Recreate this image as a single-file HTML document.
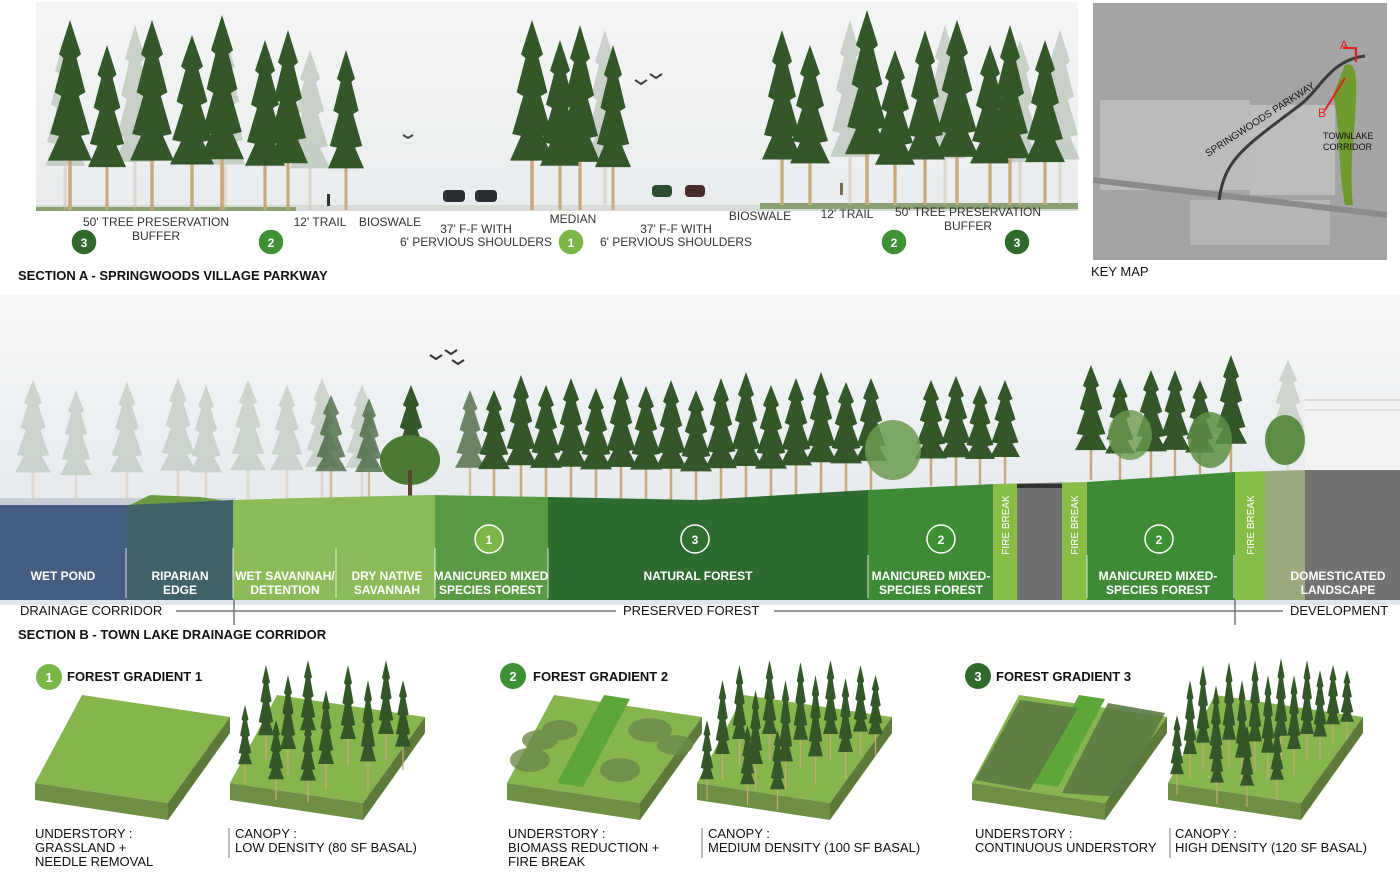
<!DOCTYPE html>
<html><head><meta charset="utf-8"><style>
body{margin:0;background:#fff;width:1400px;height:885px;overflow:hidden;font-family:"Liberation Sans",sans-serif}
svg{position:absolute;left:0;top:0}
</style></head><body>
<svg width="1400" height="885" viewBox="0 0 1400 885" font-family="Liberation Sans, sans-serif">
<defs>
<symbol id="p" viewBox="0 0 20 100" preserveAspectRatio="none">
<rect x="9.2" y="55" width="1.6" height="45" fill="#c9a87c"/>
<polygon points="10,0 15,18 13,20 17,38 14,40 19,60 15,61 20,74 0,74 5,61 1,60 6,40 3,38 7,20 5,18" fill="#34572a"/>
</symbol>
<symbol id="pl" viewBox="0 0 20 100" preserveAspectRatio="none">
<rect x="9.2" y="55" width="1.6" height="45" fill="#c9b89a"/>
<polygon points="10,0 15,18 13,20 17,38 14,40 19,60 15,61 20,74 0,74 5,61 1,60 6,40 3,38 7,20 5,18" fill="#8fa089"/>
</symbol>
<linearGradient id="sky" x1="0" y1="0" x2="0" y2="1"><stop offset="0" stop-color="#f6f7f8"/><stop offset="1" stop-color="#dfe5e9"/></linearGradient>
<linearGradient id="skyA" x1="0" y1="0" x2="0" y2="1"><stop offset="0" stop-color="#f4f5f6"/><stop offset="1" stop-color="#e9ecee"/></linearGradient>
<clipPath id="gnd"><path d="M0,505 L127,505 L233,500 L300,498 L430,495 L548,497 L700,500 L868,490 L995,484 L1087,482 L1235,472 L1305,470 L1400,470 L1400,600 L0,600Z"/></clipPath>
<g id="blk">
<polygon points="35,783 82,695 230,717 168,803" fill="#86b54e"/>
<polygon points="35,783 168,803 168,820 35,800" fill="#6f8f45"/>
<polygon points="168,803 230,717 230,733 168,820" fill="#5d7a3a"/>
</g>
</defs>

<!-- SECTION A -->
<rect x="36" y="2" width="1042" height="208" fill="url(#skyA)"/>
<rect x="36" y="205" width="1042" height="6" fill="#d8dcd9"/>
<rect x="36" y="207" width="260" height="4" fill="#8aa070"/>
<rect x="760" y="203" width="318" height="6" fill="#8aa070"/>
<g opacity="0.4">
<use href="#pl" x="45" y="40" width="40" height="170"/><use href="#pl" x="115" y="25" width="40" height="185"/><use href="#pl" x="205" y="35" width="40" height="175"/><use href="#pl" x="290" y="50" width="40" height="160"/><use href="#pl" x="585" y="30" width="40" height="175"/><use href="#pl" x="830" y="20" width="40" height="185"/><use href="#pl" x="925" y="25" width="40" height="180"/><use href="#pl" x="1040" y="30" width="40" height="175"/><use href="#pl" x="1000" y="40" width="40" height="165"/>
</g>
<use href="#p" x="48" y="20" width="44" height="190"/><use href="#p" x="88" y="45" width="38" height="165"/><use href="#p" x="130" y="20" width="44" height="190"/><use href="#p" x="170" y="35" width="44" height="175"/><use href="#p" x="200" y="15" width="44" height="195"/><use href="#p" x="245" y="40" width="40" height="170"/><use href="#p" x="268" y="30" width="40" height="180"/><use href="#p" x="328" y="50" width="36" height="160"/>
<use href="#p" x="510" y="20" width="44" height="190"/><use href="#p" x="540" y="40" width="40" height="170"/><use href="#p" x="560" y="25" width="40" height="185"/><use href="#p" x="595" y="45" width="36" height="165"/>
<use href="#p" x="762" y="30" width="40" height="175"/><use href="#p" x="790" y="45" width="40" height="160"/><use href="#p" x="845" y="10" width="44" height="195"/><use href="#p" x="875" y="50" width="40" height="155"/><use href="#p" x="905" y="30" width="40" height="175"/><use href="#p" x="935" y="20" width="44" height="185"/><use href="#p" x="970" y="45" width="40" height="160"/><use href="#p" x="990" y="25" width="40" height="180"/><use href="#p" x="1025" y="40" width="40" height="165"/>
<rect x="443" y="190" width="22" height="12" rx="4" fill="#2b2f33"/><rect x="475" y="190" width="22" height="12" rx="4" fill="#2b2f33"/>
<rect x="652" y="185" width="20" height="12" rx="4" fill="#2d4d32"/><rect x="685" y="185" width="20" height="12" rx="4" fill="#4a2a2a"/>
<rect x="327" y="194" width="3" height="12" fill="#333"/><rect x="840" y="183" width="3" height="12" fill="#7a6a55"/>
<g font-size="12" fill="#333" text-anchor="middle">
<text x="156" y="226">50' TREE PRESERVATION</text><text x="156" y="240">BUFFER</text>
<text x="320" y="226">12' TRAIL</text><text x="390" y="226">BIOSWALE</text>
<text x="476" y="233">37' F-F WITH</text><text x="476" y="246">6' PERVIOUS SHOULDERS</text>
<text x="573" y="223">MEDIAN</text>
<text x="676" y="233">37' F-F WITH</text><text x="676" y="246">6' PERVIOUS SHOULDERS</text>
<text x="760" y="220">BIOSWALE</text><text x="847" y="218">12' TRAIL</text>
<text x="968" y="216">50' TREE PRESERVATION</text><text x="968" y="230">BUFFER</text>
</g>
<g font-size="12" font-weight="bold" fill="#fff" text-anchor="middle">
<circle cx="84" cy="242" r="13" fill="#2f6a2c" stroke="#fff" stroke-width="1.5"/><text x="84" y="247">3</text>
<circle cx="271" cy="242" r="13" fill="#3f8f35" stroke="#fff" stroke-width="1.5"/><text x="271" y="247">2</text>
<circle cx="571" cy="242" r="13" fill="#7ab648" stroke="#fff" stroke-width="1.5"/><text x="571" y="247">1</text>
<circle cx="894" cy="242" r="13" fill="#3f8f35" stroke="#fff" stroke-width="1.5"/><text x="894" y="247">2</text>
<circle cx="1017" cy="242" r="13" fill="#2f6a2c" stroke="#fff" stroke-width="1.5"/><text x="1017" y="247">3</text>
</g>
<text x="18" y="280" font-size="13" font-weight="bold" fill="#111">SECTION A - SPRINGWOODS VILLAGE PARKWAY</text>

<!-- KEY MAP -->
<rect x="1093" y="3" width="294" height="257" fill="#a4a4a4"/>
<rect x="1100" y="100" width="150" height="90" fill="#c4c4c4" opacity=".7"/>
<rect x="1250" y="105" width="85" height="90" fill="#c8c8c8" opacity=".7"/>
<rect x="1190" y="200" width="140" height="45" fill="#bdbdbd" opacity=".7"/>
<path d="M1093,180 L1387,215" stroke="#8a8a8a" stroke-width="6"/>
<path d="M1219,200 C1225,160 1240,150 1300,105 C1320,90 1330,60 1365,56" stroke="#3a3a3a" stroke-width="3" fill="none"/>
<path d="M1345,65 C1360,60 1356,90 1355,120 C1352,150 1350,180 1353,205 L1345,205 C1338,170 1340,120 1333,95Z" fill="#6f9a2e"/>
<path d="M1343,48 L1356,48 L1356,62 M1325,110 L1345,78" stroke="#e02020" stroke-width="2" fill="none"/>
<text x="1340" y="49" font-size="12" fill="#e02020">A</text><text x="1318" y="117" font-size="12" fill="#e02020">B</text>
<text x="1208" y="157" font-size="10" fill="#111" transform="rotate(-33 1208 157)">SPRINGWOODS PARKWAY</text>
<text x="1323" y="139" font-size="9" fill="#111">TOWNLAKE</text><text x="1323" y="150" font-size="9" fill="#111">CORRIDOR</text>
<text x="1091" y="276" font-size="13" fill="#111">KEY MAP</text>

<!-- SECTION B -->
<rect x="0" y="295" width="1400" height="310" fill="url(#sky)"/>
<rect x="1305" y="390" width="95" height="82" fill="#f3f3f3"/><line x1="1305" y1="400" x2="1400" y2="400" stroke="#bbb"/><line x1="1305" y1="410" x2="1400" y2="410" stroke="#ccc"/>
<g opacity="0.35">
<use href="#pl" x="15" y="380" width="36" height="125"/><use href="#pl" x="60" y="390" width="32" height="115"/><use href="#pl" x="110" y="382" width="34" height="122"/><use href="#pl" x="160" y="378" width="36" height="125"/><use href="#pl" x="190" y="385" width="32" height="118"/><use href="#pl" x="230" y="380" width="36" height="122"/><use href="#pl" x="270" y="385" width="34" height="115"/><use href="#pl" x="305" y="378" width="34" height="120"/><use href="#pl" x="345" y="385" width="34" height="112"/><use href="#pl" x="1270" y="360" width="36" height="112"/>
</g>
<g opacity="0.7"><use href="#p" x="315" y="395" width="32" height="103"/><use href="#p" x="355" y="398" width="28" height="100"/><use href="#p" x="455" y="390" width="30" height="105"/></g>
<use href="#p" x="395" y="385" width="32" height="112"/>
<ellipse cx="410" cy="460" rx="30" ry="25" fill="#4b7a34"/><rect x="408" y="470" width="4" height="30" fill="#5a4630"/>
<g>
<use href="#p" x="478" y="390" width="32" height="107"/><use href="#p" x="505" y="375" width="32" height="122"/><use href="#p" x="530" y="385" width="32" height="112"/><use href="#p" x="555" y="378" width="32" height="120"/><use href="#p" x="580" y="388" width="32" height="110"/><use href="#p" x="605" y="376" width="32" height="123"/><use href="#p" x="630" y="386" width="32" height="113"/><use href="#p" x="655" y="380" width="32" height="120"/><use href="#p" x="680" y="390" width="32" height="110"/><use href="#p" x="705" y="378" width="32" height="122"/><use href="#p" x="730" y="372" width="32" height="127"/><use href="#p" x="755" y="385" width="32" height="113"/><use href="#p" x="780" y="378" width="32" height="118"/><use href="#p" x="805" y="372" width="32" height="122"/><use href="#p" x="830" y="382" width="32" height="110"/><use href="#p" x="855" y="378" width="32" height="112"/>
<use href="#p" x="915" y="380" width="32" height="106"/><use href="#p" x="940" y="376" width="32" height="110"/><use href="#p" x="965" y="385" width="30" height="100"/><use href="#p" x="990" y="380" width="30" height="104"/>
<use href="#p" x="1075" y="365" width="32" height="115"/><use href="#p" x="1105" y="378" width="30" height="102"/><use href="#p" x="1135" y="370" width="32" height="110"/><use href="#p" x="1160" y="370" width="30" height="108"/><use href="#p" x="1185" y="380" width="30" height="98"/><use href="#p" x="1215" y="355" width="32" height="120"/>
</g>
<ellipse cx="893" cy="450" rx="28" ry="30" fill="#6c9a50" opacity=".85"/><ellipse cx="1130" cy="435" rx="22" ry="25" fill="#6c9a50" opacity=".8"/><ellipse cx="1210" cy="440" rx="22" ry="28" fill="#5d8e45" opacity=".85"/><ellipse cx="1285" cy="440" rx="20" ry="25" fill="#5d8e45"/>
<path d="M430,355 l6,4 l6,-4 M445,350 l6,4 l6,-4 M452,360 l6,4 l6,-4" stroke="#333" stroke-width="2" fill="none"/>
<path d="M635,80 l6,4 l6,-4 M650,74 l6,4 l6,-4 M403,135 l5,3 l5,-3" stroke="#444" stroke-width="2" fill="none"/>
<rect x="0" y="498" width="235" height="10" fill="#c7ced4"/>
<path d="M130,505 L150,495 L200,497 L233,502 Z" fill="#6b9a40"/>
<g clip-path="url(#gnd)">
<rect x="0" y="460" width="127" height="140" fill="#465d82"/>
<rect x="127" y="460" width="106" height="140" fill="#3f6169"/>
<rect x="233" y="460" width="202" height="140" fill="#8cbb5a"/>
<rect x="435" y="460" width="113" height="140" fill="#5b9a45"/>
<rect x="548" y="460" width="320" height="140" fill="#2d6b2f"/>
<rect x="868" y="460" width="125" height="140" fill="#3e8a36"/>
<rect x="993" y="460" width="24" height="140" fill="#88bd48"/>
<rect x="1017" y="460" width="45" height="140" fill="#6f6f6f"/>
<rect x="1062" y="460" width="25" height="140" fill="#88bd48"/>
<rect x="1087" y="460" width="148" height="140" fill="#3e8a36"/>
<rect x="1235" y="460" width="30" height="140" fill="#88bd48"/>
<rect x="1265" y="460" width="40" height="140" fill="#9aaa7e"/>
<rect x="1305" y="460" width="95" height="140" fill="#727272"/>
</g>
<rect x="1017" y="484" width="45" height="4" fill="#333"/>
<g stroke="#fff" stroke-width="1" opacity=".8">
<line x1="126" y1="548" x2="126" y2="598"/><line x1="233" y1="548" x2="233" y2="598"/><line x1="336" y1="548" x2="336" y2="598"/><line x1="435" y1="548" x2="435" y2="598"/><line x1="548" y1="548" x2="548" y2="598"/><line x1="868" y1="555" x2="868" y2="598"/><line x1="1087" y1="555" x2="1087" y2="598"/><line x1="1234" y1="555" x2="1234" y2="598"/>
</g>
<g font-size="12" font-weight="bold" fill="#fff" text-anchor="middle">
<text x="63" y="580">WET POND</text>
<text x="180" y="580">RIPARIAN</text><text x="180" y="594">EDGE</text>
<text x="285" y="580">WET SAVANNAH/</text><text x="285" y="594">DETENTION</text>
<text x="387" y="580">DRY NATIVE</text><text x="387" y="594">SAVANNAH</text>
<text x="491" y="580">MANICURED MIXED</text><text x="491" y="594">SPECIES FOREST</text>
<text x="698" y="580">NATURAL FOREST</text>
<text x="931" y="580">MANICURED MIXED-</text><text x="931" y="594">SPECIES FOREST</text>
<text x="1158" y="580">MANICURED MIXED-</text><text x="1158" y="594">SPECIES FOREST</text>
<text x="1338" y="580">DOMESTICATED</text><text x="1338" y="594">LANDSCAPE</text>
<circle cx="489" cy="539" r="14" fill="#7ab648" stroke="#fff" stroke-width="1.5"/><text x="489" y="544">1</text>
<circle cx="695" cy="539" r="14" fill="#2f6e2c" stroke="#fff" stroke-width="1.5"/><text x="695" y="544">3</text>
<circle cx="941" cy="539" r="14" fill="#3f8f35" stroke="#fff" stroke-width="1.5"/><text x="941" y="544">2</text>
<circle cx="1159" cy="539" r="14" fill="#3f8f35" stroke="#fff" stroke-width="1.5"/><text x="1159" y="544">2</text>
</g>
<g font-size="10" fill="#fff" text-anchor="middle">
<text transform="translate(1009 525) rotate(-90)">FIRE BREAK</text>
<text transform="translate(1078 525) rotate(-90)">FIRE BREAK</text>
<text transform="translate(1254 525) rotate(-90)">FIRE BREAK</text>
</g>
<g stroke="#777" stroke-width="1.5">
<line x1="176" y1="611" x2="616" y2="611"/><line x1="774" y1="611" x2="1283" y2="611"/>
<line x1="234" y1="600" x2="234" y2="625"/><line x1="1235" y1="600" x2="1235" y2="625"/>
</g>
<g font-size="13" fill="#111">
<text x="20" y="615">DRAINAGE CORRIDOR</text><text x="623" y="615">PRESERVED FOREST</text><text x="1290" y="615">DEVELOPMENT</text>
</g>
<text x="18" y="639" font-size="13" font-weight="bold" fill="#111">SECTION B - TOWN LAKE DRAINAGE CORRIDOR</text>

<!-- GRADIENTS -->
<g font-size="13" font-weight="bold" fill="#111">
<circle cx="49" cy="677" r="13" fill="#7ab648"/><text x="49" y="682" fill="#fff" text-anchor="middle">1</text><text x="67" y="681">FOREST GRADIENT 1</text>
<circle cx="513" cy="676" r="13" fill="#3f8f35"/><text x="513" y="681" fill="#fff" text-anchor="middle">2</text><text x="533" y="681">FOREST GRADIENT 2</text>
<circle cx="978" cy="676" r="13" fill="#2f6a2c"/><text x="978" y="681" fill="#fff" text-anchor="middle">3</text><text x="996" y="681">FOREST GRADIENT 3</text>
</g>
<use href="#blk"/>
<use href="#blk" x="195"/>
<use href="#blk" x="472"/>
<use href="#blk" x="662"/>
<use href="#blk" x="937"/>
<use href="#blk" x="1133"/>
<polygon points="557,783 604,695 630,699 583,787" fill="#5ea63a"/>
<polygon points="1032,783 1079,695 1105,699 1058,787" fill="#5ea63a"/>
<g fill="#6d8a4a" opacity=".8">
<ellipse cx="530" cy="760" rx="20" ry="12"/><ellipse cx="560" cy="730" rx="18" ry="10"/><ellipse cx="650" cy="730" rx="22" ry="12"/><ellipse cx="620" cy="770" rx="20" ry="12"/><ellipse cx="675" cy="745" rx="18" ry="10"/><ellipse cx="540" cy="740" rx="18" ry="10"/>
</g>
<g fill="#5b7a45" opacity=".9">
<polygon points="975,780 1020,700 1078,708 1030,790"/><polygon points="1062,793 1108,703 1165,713 1120,797"/>
</g>
<g>
<use href="#p" x="238" y="705" width="14" height="80"/><use href="#p" x="258" y="665" width="16" height="95"/><use href="#p" x="280" y="675" width="16" height="100"/><use href="#p" x="300" y="660" width="16" height="95"/><use href="#p" x="318" y="690" width="16" height="100"/><use href="#p" x="340" y="665" width="16" height="100"/><use href="#p" x="360" y="680" width="16" height="110"/><use href="#p" x="378" y="660" width="16" height="100"/><use href="#p" x="395" y="680" width="16" height="90"/><use href="#p" x="268" y="720" width="16" height="80"/><use href="#p" x="300" y="720" width="16" height="82"/>
<use href="#p" x="700" y="720" width="14" height="80"/><use href="#p" x="715" y="680" width="15" height="100"/><use href="#p" x="732" y="665" width="15" height="100"/><use href="#p" x="748" y="690" width="15" height="100"/><use href="#p" x="762" y="660" width="15" height="100"/><use href="#p" x="778" y="680" width="15" height="110"/><use href="#p" x="793" y="662" width="15" height="105"/><use href="#p" x="808" y="675" width="15" height="110"/><use href="#p" x="823" y="660" width="15" height="100"/><use href="#p" x="838" y="678" width="15" height="100"/><use href="#p" x="853" y="665" width="15" height="90"/><use href="#p" x="868" y="675" width="15" height="80"/><use href="#p" x="740" y="725" width="15" height="80"/><use href="#p" x="770" y="730" width="15" height="80"/>
<use href="#p" x="1170" y="715" width="14" height="80"/><use href="#p" x="1183" y="680" width="14" height="100"/><use href="#p" x="1196" y="665" width="14" height="105"/><use href="#p" x="1209" y="685" width="14" height="100"/><use href="#p" x="1222" y="662" width="14" height="105"/><use href="#p" x="1235" y="680" width="14" height="105"/><use href="#p" x="1248" y="660" width="14" height="110"/><use href="#p" x="1261" y="675" width="14" height="105"/><use href="#p" x="1274" y="658" width="14" height="105"/><use href="#p" x="1287" y="675" width="14" height="100"/><use href="#p" x="1300" y="660" width="14" height="100"/><use href="#p" x="1313" y="670" width="14" height="90"/><use href="#p" x="1326" y="665" width="14" height="80"/><use href="#p" x="1340" y="670" width="14" height="70"/><use href="#p" x="1210" y="722" width="14" height="82"/><use href="#p" x="1240" y="725" width="14" height="82"/><use href="#p" x="1270" y="722" width="14" height="78"/>
</g>
<g stroke="#777" stroke-width="1"><line x1="229" y1="828" x2="229" y2="858"/><line x1="702" y1="828" x2="702" y2="858"/><line x1="1170" y1="828" x2="1170" y2="858"/></g>
<g font-size="13" fill="#111">
<text x="35" y="838">UNDERSTORY :</text><text x="35" y="852">GRASSLAND +</text><text x="35" y="866">NEEDLE REMOVAL</text>
<text x="235" y="838">CANOPY :</text><text x="235" y="852">LOW DENSITY (80 SF BASAL)</text>
<text x="508" y="838">UNDERSTORY :</text><text x="508" y="852">BIOMASS REDUCTION +</text><text x="508" y="866">FIRE BREAK</text>
<text x="708" y="838">CANOPY :</text><text x="708" y="852">MEDIUM DENSITY (100 SF BASAL)</text>
<text x="975" y="838">UNDERSTORY :</text><text x="975" y="852">CONTINUOUS UNDERSTORY</text>
<text x="1175" y="838">CANOPY :</text><text x="1175" y="852">HIGH DENSITY (120 SF BASAL)</text>
</g>
</svg>
</body></html>
